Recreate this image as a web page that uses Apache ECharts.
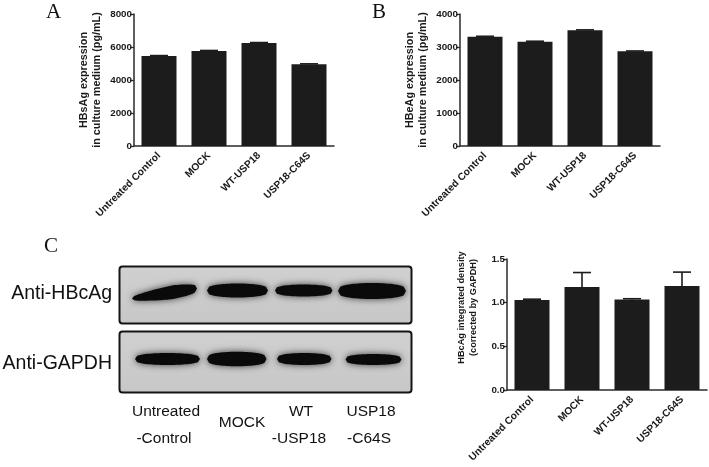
<!DOCTYPE html>
<html>
<head>
<meta charset="utf-8">
<script src="https://cdn.jsdelivr.net/npm/echarts@6/dist/echarts.min.js"></script>
<style>
html,body{margin:0;padding:0;background:#fff;}
#c{width:709px;height:467px;}
</style>
</head>
<body>
<div id="c"></div>
<script>
// ---- data ----
const categories = ['Untreated Control', 'MOCK', 'WT-USP18', 'USP18-C64S'];
const hbsagValues = [5450, 5760, 6240, 4950];
const hbsagErrors = [30, 30, 30, 30];
const hbeagValues = [3310, 3160, 3510, 2870];
const hbeagErrors = [15, 15, 10, 10];
const hbcagValues = [1.03, 1.18, 1.035, 1.19];
const hbcagErrors = [0.01, 0.165, 0.01, 0.16];
const blotRows = ['Anti-HBcAg', 'Anti-GAPDH'];
const laneLabelsTop = ['Untreated', 'MOCK', 'WT', 'USP18'];
const laneLabelsBottom = ['-Control', '', '-USP18', '-C64S'];

const FONT = '"Liberation Sans", Arial, sans-serif';
const DARK = '#1c1c1c';
const AXIS = '#2a2a2a';

const chart = echarts.init(document.getElementById('c'));

function errRender(params, api) {
  const x = api.value(0), v = api.value(1), e = api.value(2);
  const base = api.coord([x, v]);
  const top = api.coord([x, v + e]);
  const hw = api.size([1, 0])[0] * 0.18;
  const st = {stroke: DARK, lineWidth: 1.6};
  return {type: 'group', children: [
    {type: 'line', shape: {x1: base[0], y1: base[1], x2: top[0], y2: top[1]}, style: st},
    {type: 'line', shape: {x1: top[0] - hw, y1: top[1], x2: top[0] + hw, y2: top[1]}, style: st}
  ]};
}
function errData(vals, errs) { return vals.map((v, i) => [i, v, errs[i]]); }

function xAxisCfg(gi) {
  return {
    type: 'category', gridIndex: gi, data: categories,
    axisLine: {lineStyle: {color: AXIS, width: 1.5}},
    axisTick: {alignWithLabel: true, length: 4, lineStyle: {color: AXIS, width: 1.3}},
    axisLabel: {rotate: 45, margin: 8, interval: 0, fontFamily: FONT, fontWeight: 'bold', fontSize: 10.2, color: '#1a1a1a'}
  };
}
function yAxisCfg(gi, max, interval, name, gap, fs, fmt, pad) {
  return {
    type: 'value', gridIndex: gi, min: 0, max: max, interval: interval,
    name: name, nameLocation: 'middle', nameRotate: 90, nameGap: gap,
    nameTextStyle: {fontFamily: FONT, fontWeight: 'bold', fontSize: fs, color: '#1a1a1a', lineHeight: fs * 1.25, padding: pad || 0},
    splitLine: {show: false},
    axisLine: {show: true, lineStyle: {color: AXIS, width: 1.5}},
    axisTick: {show: true, length: 4, lineStyle: {color: AXIS, width: 1.3}},
    axisLabel: {margin: 2, fontFamily: FONT, fontWeight: 'bold', fontSize: 9.8, color: '#1a1a1a', formatter: fmt}
  };
}

// blot bands (image decoration)
function band(x0, x1, yl, yr, h, taper) {
  const n = 30, pts = [], ptsB = [];
  for (let i = 0; i <= n; i++) {
    const t = i / n;
    const x = x0 + (x1 - x0) * t;
    const yc = yl + (yr - yl) * t;
    let prof = Math.pow(Math.sin(Math.PI * t), 0.28);
    if (taper) prof *= (0.55 + 0.45 * Math.min(1, t * 1.6));
    pts.push([x, yc - h / 2 * prof]);
    ptsB.push([x, yc + h / 2 * prof]);
  }
  return {
    type: 'polygon', shape: {points: pts.concat(ptsB.reverse()), smooth: 0},
    style: {fill: '#0a0a0a', shadowBlur: 7, shadowColor: 'rgba(0,0,0,0.7)'}, z: 3
  };
}
const blotBg = {type: 'linear', x: 0, y: 0, x2: 0, y2: 1, colorStops: [{offset: 0, color: '#d0d0d0'}, {offset: 1, color: '#c7c7c7'}]};

const graphics = [
  {type: 'text', left: 46, top: 2, style: {text: 'A', font: '21px "Liberation Serif", "Times New Roman", serif', fill: '#111'}},
  {type: 'text', left: 372, top: 2, style: {text: 'B', font: '21px "Liberation Serif", "Times New Roman", serif', fill: '#111'}},
  {type: 'text', left: 44, top: 236, style: {text: 'C', font: '21px "Liberation Serif", "Times New Roman", serif', fill: '#111'}},
  {type: 'rect', shape: {x: 119.5, y: 266.5, width: 292, height: 57, r: 3}, style: {fill: blotBg, stroke: '#151515', lineWidth: 2}, z: 2},
  {type: 'rect', shape: {x: 119.5, y: 331.5, width: 292, height: 61, r: 3}, style: {fill: blotBg, stroke: '#151515', lineWidth: 2}, z: 2},
  band(132, 197, 298.5, 288.5, 14, true),
  band(207, 268, 290.5, 290.5, 14),
  band(275, 332.5, 290.5, 290.5, 12),
  band(338, 406, 291, 291, 16),
  band(135, 200, 359, 359, 12),
  band(207, 266.5, 359, 359, 14.5),
  band(277, 331.5, 359, 359, 12),
  band(345.5, 401.5, 359.5, 359.5, 11)
];
graphics.push({type: 'text', right: 709 - 112, top: 284, style: {text: blotRows[0], font: '19.5px ' + FONT, fill: '#111', textAlign: 'right'}});
graphics.push({type: 'text', right: 709 - 112, top: 354, style: {text: blotRows[1], font: '19.5px ' + FONT, fill: '#111', textAlign: 'right'}});
const laneX = [166, 242, 301, 371];
laneX.forEach((x, i) => {
  if (laneLabelsBottom[i]) {
    graphics.push({type: 'text', x: x, y: 412, style: {text: laneLabelsTop[i], font: '15.5px ' + FONT, fill: '#111', align: 'center', verticalAlign: 'middle'}});
    graphics.push({type: 'text', x: x - 2, y: 439, style: {text: laneLabelsBottom[i], font: '15.5px ' + FONT, fill: '#111', align: 'center', verticalAlign: 'middle'}});
  } else {
    graphics.push({type: 'text', x: x, y: 423, style: {text: laneLabelsTop[i], font: '15.5px ' + FONT, fill: '#111', align: 'center', verticalAlign: 'middle'}});
  }
});

const plain = v => String(v);
chart.setOption({
  animation: false,
  grid: [
    {left: 134, top: 14, width: 200, height: 132},
    {left: 460, top: 14, width: 200, height: 132},
    {left: 507, top: 259, width: 200, height: 131}
  ],
  xAxis: [xAxisCfg(0), xAxisCfg(1), xAxisCfg(2)],
  yAxis: [
    yAxisCfg(0, 8000, 2000, 'HBsAg expression\nin culture medium (pg/mL)', 30, 10.8, plain),
    yAxisCfg(1, 4000, 1000, 'HBeAg expression\nin culture medium (pg/mL)', 30, 10.8, plain),
    yAxisCfg(2, 1.5, 0.5, 'HBcAg integrated density\n(corrected by GAPDH)', 28, 9.2, v => v.toFixed(1), [0, 0, 0, 34])
  ],
  series: [
    {type: 'bar', xAxisIndex: 0, yAxisIndex: 0, data: hbsagValues, barWidth: 35, itemStyle: {color: DARK}},
    {type: 'custom', xAxisIndex: 0, yAxisIndex: 0, data: errData(hbsagValues, hbsagErrors), renderItem: errRender, z: 1},
    {type: 'bar', xAxisIndex: 1, yAxisIndex: 1, data: hbeagValues, barWidth: 35, itemStyle: {color: DARK}},
    {type: 'custom', xAxisIndex: 1, yAxisIndex: 1, data: errData(hbeagValues, hbeagErrors), renderItem: errRender, z: 1},
    {type: 'bar', xAxisIndex: 2, yAxisIndex: 2, data: hbcagValues, barWidth: 35, itemStyle: {color: DARK}},
    {type: 'custom', xAxisIndex: 2, yAxisIndex: 2, data: errData(hbcagValues, hbcagErrors), renderItem: errRender, z: 1}
  ],
  graphic: graphics
});
</script>
</body>
</html>
